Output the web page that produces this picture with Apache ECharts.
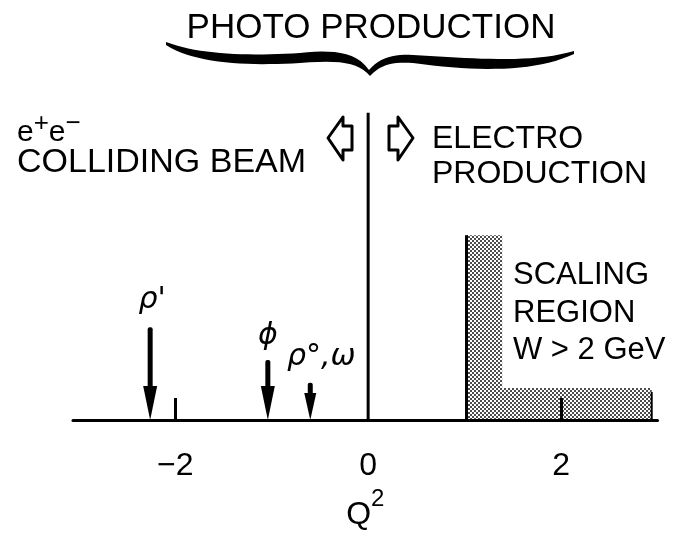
<!DOCTYPE html>
<html><head><meta charset="utf-8">
<script src="https://cdn.jsdelivr.net/npm/echarts@6/dist/echarts.min.js"></script>
<style>html,body{margin:0;padding:0;background:#fff}#c{width:674px;height:536px}</style>
</head><body><div id="c"></div>
<script>
// ---- data ----
const tickLabels = [-2, 0, 2];
const minorTicks = [-2, 2];
const resonanceNames = ["ρ'", 'ϕ', 'ρ°,ω'];
const resonanceQ2 = [-2.26, -1.04, -0.6];
const arrowTops = [23.2, 15, 9.3];
const photoLine = [[0, 0], [0, 76.8]];
const scalingEdgesQ2 = [1.02, 1.39, 2.94];
const scalingHeights = [46.2, 8];

const FONT = '"Liberation Sans", Arial, sans-serif';

// dotted fill pattern
const pc = document.createElement('canvas');
pc.width = 4; pc.height = 4;
const g = pc.getContext('2d');
g.fillStyle = '#fff'; g.fillRect(0, 0, 4, 4);
g.fillStyle = '#000';
g.beginPath(); g.arc(1, 1, 0.95, 0, Math.PI * 2); g.fill();
g.beginPath(); g.arc(3, 3, 0.95, 0, Math.PI * 2); g.fill();

function renderScaling(params, api) {
  const [x0, x1, x2] = scalingEdgesQ2;
  const [h0, h1] = scalingHeights;
  const pts = [[x0, 0], [x0, h0], [x1, h0], [x1, h1], [x2, h1], [x2, 0]].map(p => api.coord(p));
  return {
    type: 'group', children: [
      { type: 'polygon', shape: { points: pts }, style: { fill: { image: pc, repeat: 'repeat' }, stroke: null } },
      { type: 'line', shape: { x1: pts[0][0], y1: pts[0][1], x2: pts[1][0], y2: pts[1][1] }, style: { stroke: '#000', lineWidth: 3 } },
      { type: 'line', shape: { x1: pts[4][0], y1: pts[4][1] + 4, x2: pts[5][0], y2: pts[5][1] }, style: { stroke: '#000', lineWidth: 2 } }
    ]
  };
}

function renderArrow(params, api) {
  const i = params.dataIndex;
  const q = api.value(0), top = api.value(1);
  const p0 = api.coord([q, 0]);
  const p1 = api.coord([q, top]);
  const headLen = i === 2 ? 27 : 34;
  const headW = i === 2 ? 12 : 14;
  const shaftW = 5;
  const hs = p0[1] - headLen;
  const labelDx = [2, 0, 11][i];
  const labelDy = [12, 9, 11][i];
  return {
    type: 'group', children: [
      { type: 'rect', shape: { x: p0[0] - shaftW / 2, y: p1[1], width: shaftW, height: hs - p1[1] + 2, r: 2 }, style: { fill: '#000' } },
      { type: 'polygon', shape: { points: [[p0[0] - headW / 2, hs], [p0[0] + headW / 2, hs], [p0[0], p0[1]]] }, style: { fill: '#000' } },
      { type: 'text', x: p0[0] + labelDx, y: p1[1] - labelDy,
        style: { text: resonanceNames[i], font: 'italic 30px "DejaVu Sans", sans-serif', fill: '#000', align: 'center', verticalAlign: 'bottom' } }
    ]
  };
}

// brace helper: sample cubic beziers
function bez(p0, c1, c2, p3, n) {
  const out = [];
  for (let k = 0; k <= n; k++) {
    const t = k / n, u = 1 - t;
    out.push([
      u*u*u*p0[0] + 3*u*u*t*c1[0] + 3*u*t*t*c2[0] + t*t*t*p3[0],
      u*u*u*p0[1] + 3*u*u*t*c1[1] + 3*u*t*t*c2[1] + t*t*t*p3[1]
    ]);
  }
  return out;
}
const bracePts = [].concat(
  bez([166,42],[200,55],[250,56],[300,53],20),
  bez([300,53],[330,50],[355,50],[369,70],12),
  bez([369,70],[380,57],[395,54],[413,55],12),
  bez([413,55],[470,58],[530,64],[574,51],20),
  bez([574,54],[535,72],[480,72],[413,63],20),
  bez([413,63],[395,62],[382,63],[370,76],12),
  bez([370,76],[358,62],[340,60],[300,63],12),
  bez([300,63],[250,66],[195,64],[166,45],20)
);

const txt = (text, x, y, size, align) => ({
  type: 'text', x, y, z: 10,
  style: { text, font: size + 'px ' + FONT, fill: '#000', align: align || 'left', verticalAlign: 'middle' }
});

const chart = echarts.init(document.getElementById('c'));
chart.setOption({
  animation: false,
  backgroundColor: '#fff',
  grid: { left: 73, right: 16.5, top: 20, bottom: 116 },
  xAxis: {
    type: 'value', min: -3.06, max: 3.0, z: 5,
    axisLine: { lineStyle: { color: '#000', width: 3 } },
    axisTick: { show: true, customValues: minorTicks, inside: true, length: 22, lineStyle: { color: '#000', width: 3 } },
    axisLabel: { customValues: tickLabels, margin: 30, fontSize: 32, color: '#000', fontFamily: FONT,
      formatter: v => (v < 0 ? '−' + Math.abs(v) : String(v)) },
    splitLine: { show: false },
    name: '{q|Q}{s|2}', nameLocation: 'middle', nameGap: 61,
    nameTextStyle: { rich: {
      q: { fontSize: 32, lineHeight: 56, fontFamily: FONT, color: '#000' },
      s: { fontSize: 24, lineHeight: 24, fontFamily: FONT, color: '#000', verticalAlign: 'top' }
    } }
  },
  yAxis: { type: 'value', min: 0, max: 100, show: false },
  series: [
    { type: 'custom', name: 'Scaling region', renderItem: renderScaling, data: [[2, 0]], z: 2 },
    { type: 'line', name: 'Q2 = 0', data: photoLine, symbol: 'none', lineStyle: { color: '#000', width: 3 }, z: 3 },
    { type: 'custom', name: 'Resonances', renderItem: renderArrow, data: resonanceQ2.map((q, i) => [q, arrowTops[i]]), z: 4 }
  ],
  graphic: [
    { type: 'polygon', shape: { points: bracePts }, style: { fill: '#000' } },
    { type: 'polygon', shape: { points: [[328,138],[343,117],[343,126],[352,126],[352,150],[343,150],[343,160]] }, style: { fill: '#fff', stroke: '#000', lineWidth: 3, lineJoin: 'round' } },
    { type: 'polygon', shape: { points: [[413,138],[398,117],[398,126],[389,126],[389,150],[398,150],[398,160]] }, style: { fill: '#fff', stroke: '#000', lineWidth: 3, lineJoin: 'round' } },
    txt('PHOTO PRODUCTION', 371, 28, 35, 'center'),
    { type: 'text', x: 17, y: 111, z: 10, style: {
      text: '{e|e}{s|+}{e|e}{s|−}',
      rich: {
        e: { fontSize: 30, lineHeight: 44, fontFamily: FONT, fill: '#000' },
        s: { fontSize: 26, lineHeight: 26, fontFamily: FONT, fill: '#000', verticalAlign: 'top' }
      } } },
    txt('COLLIDING BEAM', 17, 162.5, 34),
    txt('ELECTRO', 432, 139, 32),
    txt('PRODUCTION', 432, 174, 32),
    txt('SCALING', 513, 275, 31),
    txt('REGION', 513, 313.5, 31),
    txt('W > 2 GeV', 513, 350, 31)
  ]
});
</script></body></html>
